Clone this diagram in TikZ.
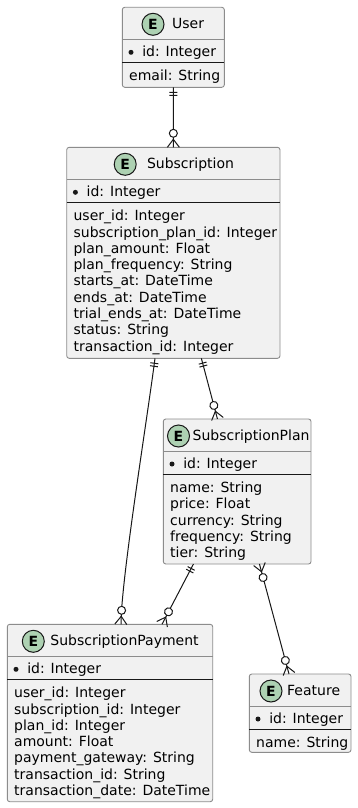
\documentclass[tikz,border=0pt]{standalone}
\usepackage{fontspec}
\setmainfont{DejaVu Sans}
\usetikzlibrary{decorations.markings}

\definecolor{boxfill}{HTML}{F1F1F1}
\definecolor{boxline}{HTML}{8C8C8C}
\definecolor{spotfill}{HTML}{ADD1B2}
\definecolor{ink}{HTML}{181818}

\tikzset{
  entitybox/.style={rectangle, rounded corners=2.5pt, fill=boxfill, draw=boxline,
    line width=0.9pt, inner sep=0pt, outer sep=0pt},
  headsep/.style={draw=boxline, line width=0.9pt},
  keysep/.style={draw=ink, line width=1pt},
  spot/.style={circle, minimum size=22pt, inner sep=0pt, fill=spotfill, draw=ink,
    line width=1pt, font=\fontsize{14pt}{14pt}\selectfont\bfseries},
  titletext/.style={anchor=base west, inner sep=0pt, font=\fontsize{14pt}{16.3pt}\selectfont},
  attr/.style={anchor=base west, inner sep=0pt, font=\fontsize{14pt}{16.3pt}\selectfont},
  keydot/.style={circle, fill=ink, minimum size=5pt, inner sep=0pt},
  relation/.style={draw=ink, line width=1pt},
  % "||" : exactly one, at the start of the connector
  onestart/.style={postaction={decorate, decoration={markings,
    mark=at position 5pt with {\draw[ink, line width=1pt] (0pt,-4pt) -- (0pt,4pt);},
    mark=at position 8pt with {\draw[ink, line width=1pt] (0pt,-4pt) -- (0pt,4pt);}}}},
  % "o{" : zero or many, at the end of the connector
  manyend/.style={postaction={decorate, decoration={markings,
    mark=at position -14pt with {\draw[ink, line width=1pt, fill=white] (0pt,0pt) circle (4pt);},
    mark=at position -8pt with {\draw[ink, line width=1pt] (8pt,6pt) -- (0pt,0pt) -- (8pt,-6pt);}}}},
  % "}o" : zero or many, at the start of the connector
  manystart/.style={postaction={decorate, decoration={markings,
    mark=at position 8pt with {\draw[ink, line width=1pt] (-8pt,6pt) -- (0pt,0pt) -- (-8pt,-6pt);},
    mark=at position 14pt with {\draw[ink, line width=1pt, fill=white] (0pt,0pt) circle (4pt);}}}},
}

% #1 name, #2 left, #3 top, #4 right, #5 bottom, #6 spot x, #7 title x, #8 title, #9 attributes
\newcommand{\erentity}[9]{%
  \node[entitybox, minimum width={(#4-#2)*1pt}, minimum height={(#5-#3)*1pt}]
    (#1) at ({(#2+#4)/2},{(#3+#5)/2}) {};
  \node[spot] (#1-spot) at (#6,{#3+17}) {E};
  \node[titletext] (#1-title) at (#7,{#3+21}) {#8};
  \draw[headsep] (#2,{#3+32}) -- (#4,{#3+32});
  \node[keydot] (#1-dot) at ({#2+8.7},{#3+45}) {};
  \node[attr] (#1-key) at ({#2+19.8},{#3+49.4}) {id: Integer};
  \draw[keysep] (#2,{#3+55.4}) -- (#4,{#3+55.4});
  \foreach \t [count=\i] in {#9} {
    \node[attr] (#1-a\i) at ({#2+6.7},{#3+73.4+(\i-1)*16.3}) {\t};
  }%
}

\begin{document}
\begin{tikzpicture}[x=1pt, y=-1pt]
  \fill[white] (0,0) rectangle (357,808);
  \useasboundingbox (0,0) rectangle (357,808);

  \erentity{user}{122.3}{7.3}{224.3}{87.3}{153}{172}{User}{email: String}
  \erentity{sub}{66.7}{147.3}{280}{358.3}{125.2}{146.8}{Subscription}{%
    user\_id: Integer, subscription\_plan\_id: Integer, plan\_amount: Float,
    plan\_frequency: String, starts\_at: DateTime, ends\_at: DateTime,
    trial\_ends\_at: DateTime, status: String, transaction\_id: Integer}
  \erentity{plan}{163.3}{419}{311}{564}{178.5}{192.5}{SubscriptionPlan}{%
    name: String, price: Float, currency: String, frequency: String, tier: String}
  \erentity{pay}{7.3}{624.3}{212.7}{801.7}{33.3}{50.2}{SubscriptionPayment}{%
    user\_id: Integer, subscription\_id: Integer, plan\_id: Integer, amount: Float,
    payment\_gateway: String, transaction\_id: String, transaction\_date: DateTime}
  \erentity{feat}{249.3}{674}{351}{752.3}{271}{287}{Feature}{name: String}

  % relationships
  \draw[relation, onestart, manyend] (user.south) -- (sub.north);
  \draw[relation, onestart, manyend] ([xshift=28pt]sub.south) -- ([xshift=-19.7pt]plan.north);
  \draw[relation, onestart, manyend] ([xshift=-18.35pt]sub.south)
    .. controls +(-8,62) and +(0,-44) .. ([xshift=11pt]pay.north);
  \draw[relation, onestart, manyend] ([xshift=-43.7pt]plan.south) -- ([xshift=52pt]pay.north);
  \draw[relation, manystart, manyend] ([xshift=22.3pt]plan.south) -- ([xshift=-11.15pt]feat.north);
\end{tikzpicture}
\end{document}
